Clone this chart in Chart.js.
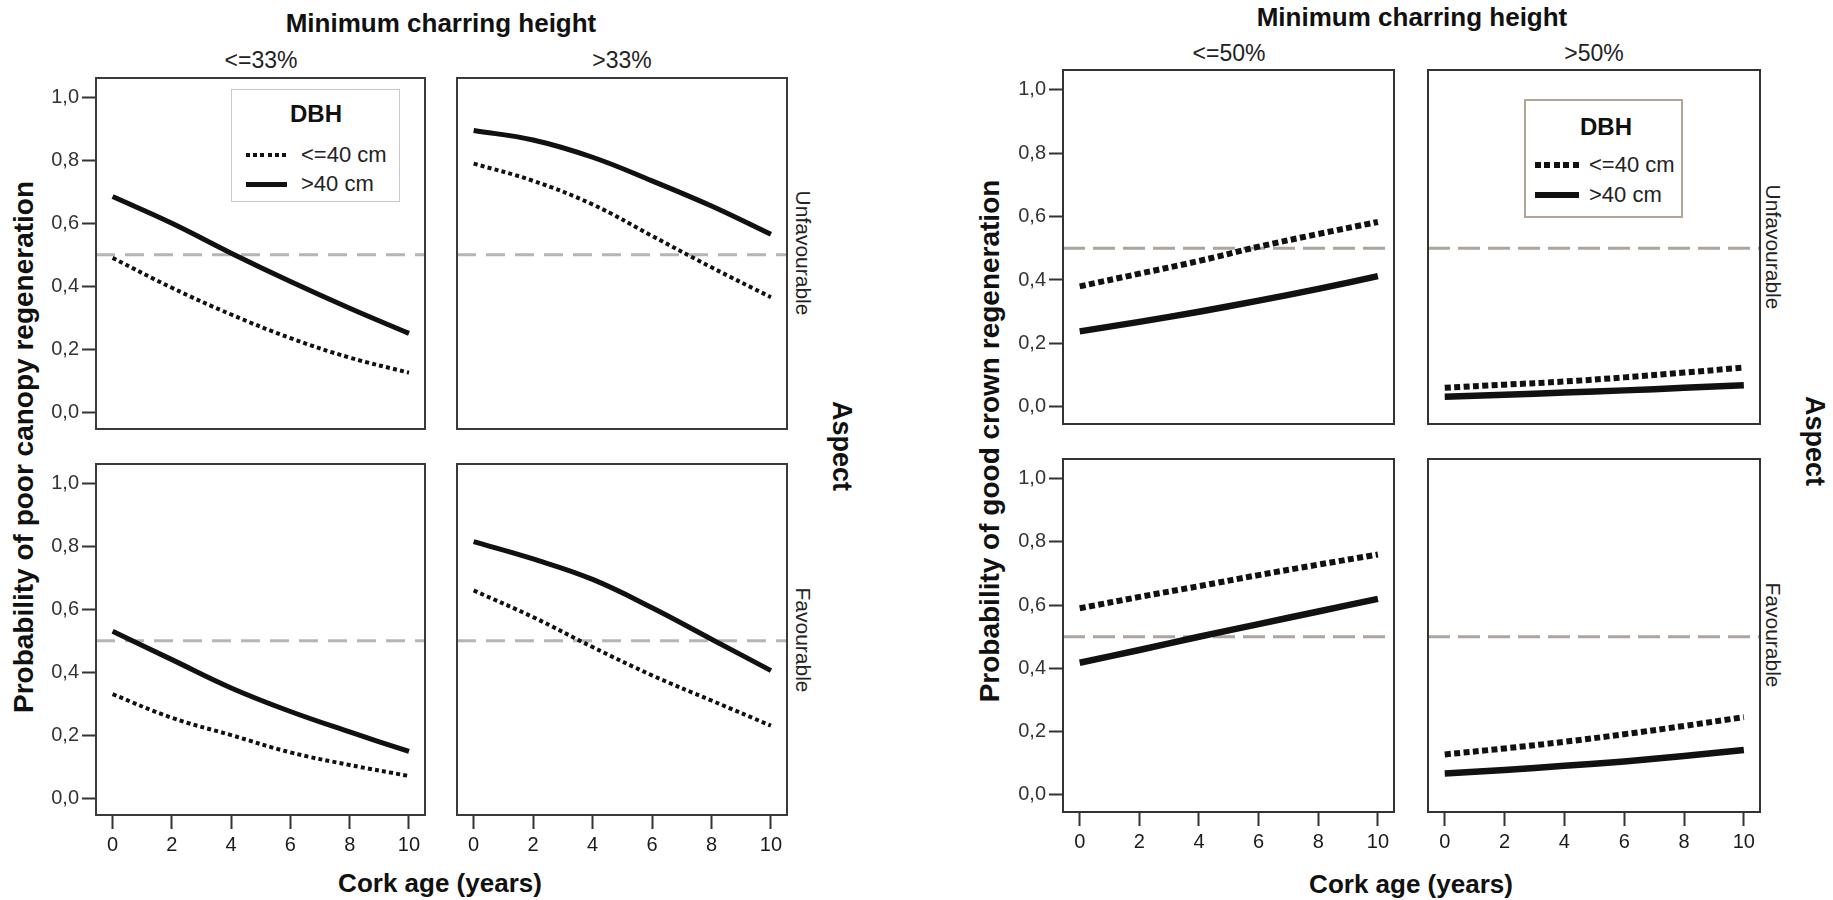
<!DOCTYPE html>
<html lang="en">
<head>
<meta charset="UTF-8">
<title>Probability of canopy and crown regeneration by cork age</title>
<script src="https://cdn.jsdelivr.net/npm/chart.js"></script>
<style>
    html, body {
        margin: 0;
        padding: 0;
        background: #fff;
        width: 1833px;
        height: 900px;
        overflow: hidden;
    }
    #stage {
        position: relative;
        width: 1833px;
        height: 900px;
        font-family: 'Liberation Sans', Arial, sans-serif;
        color: #111;
    }
    canvas { position: absolute; }
    .lbl {
        position: absolute;
        white-space: nowrap;
        line-height: 1;
        transform: translate(-50%, -50%);
    }
    .title { font-weight: bold; font-size: 26px; }
    .head { font-size: 23px; color: #222; }
    .strip { font-size: 21px; color: #222; transform: translate(-50%, -50%) rotate(90deg); }
    .aspect { font-weight: bold; font-size: 27px; transform: translate(-50%, -50%) rotate(90deg); }
    .ytitle { font-weight: bold; font-size: 28px; transform: translate(-50%, -50%) rotate(-90deg); }
    .legend { position: absolute; background: #fff; box-sizing: border-box; }
    .legend .dbh { position: absolute; font-weight: bold; font-size: 24px; line-height: 1; transform: translate(-50%, -50%); }
    .legend .txt { position: absolute; font-size: 22px; line-height: 1; transform: translateY(-50%); white-space: nowrap; color: #222; }
    .legend .smp { position: absolute; }
</style>
</head>
<body>
<div id="stage">
    <!-- left figure -->
    <div class="lbl title" style="left:441px;top:23px">Minimum charring height</div>
    <div class="lbl head" style="left:261px;top:60px">&lt;=33%</div>
    <div class="lbl head" style="left:622px;top:60px">&gt;33%</div>
    <div class="lbl strip" style="left:803px;top:253px">Unfavourable</div>
    <div class="lbl strip" style="left:803px;top:640px">Favourable</div>
    <div class="lbl aspect" style="left:841px;top:446px">Aspect</div>
    <div class="lbl ytitle" style="left:24px;top:447px">Probability of poor canopy regeneration</div>
    <div class="lbl title" style="left:440px;top:883px">Cork age (years)</div>

    <!-- right figure -->
    <div class="lbl title" style="left:1412px;top:17px">Minimum charring height</div>
    <div class="lbl head" style="left:1229px;top:53px">&lt;=50%</div>
    <div class="lbl head" style="left:1594px;top:53px">&gt;50%</div>
    <div class="lbl strip" style="left:1773px;top:247px">Unfavourable</div>
    <div class="lbl strip" style="left:1773px;top:635px">Favourable</div>
    <div class="lbl aspect" style="left:1814px;top:441px">Aspect</div>
    <div class="lbl ytitle" style="left:990px;top:441px">Probability of good crown regeneration</div>
    <div class="lbl title" style="left:1411px;top:884px">Cork age (years)</div>
</div>

<script>
    // x values (cork age, years) and axis ticks
    const corkAge = [0, 2, 4, 6, 8, 10];
    const xTicks = [0, 2, 4, 6, 8, 10];
    const yTicks = [0, 0.2, 0.4, 0.6, 0.8, 1.0];
    const threshold = 0.5;
    const legendLabels = ['<=40 cm', '>40 cm'];

    // Left: probability of poor canopy regeneration (small = DBH <=40 cm, large = >40 cm)
    const poorLowUnfavSmall  = [0.49, 0.395, 0.31, 0.235, 0.173, 0.125];
    const poorLowUnfavLarge  = [0.685, 0.60, 0.505, 0.415, 0.33, 0.25];
    const poorHighUnfavSmall = [0.79, 0.735, 0.66, 0.56, 0.46, 0.365];
    const poorHighUnfavLarge = [0.895, 0.865, 0.81, 0.735, 0.655, 0.565];
    const poorLowFavSmall    = [0.33, 0.255, 0.20, 0.145, 0.105, 0.07];
    const poorLowFavLarge    = [0.53, 0.44, 0.35, 0.275, 0.21, 0.148];
    const poorHighFavSmall   = [0.66, 0.575, 0.48, 0.39, 0.31, 0.23];
    const poorHighFavLarge   = [0.815, 0.76, 0.695, 0.605, 0.505, 0.405];

    // Right: probability of good crown regeneration
    const goodLowUnfavSmall  = [0.38, 0.42, 0.46, 0.505, 0.545, 0.583];
    const goodLowUnfavLarge  = [0.238, 0.268, 0.30, 0.335, 0.372, 0.412];
    const goodHighUnfavSmall = [0.06, 0.07, 0.08, 0.093, 0.108, 0.124];
    const goodHighUnfavLarge = [0.032, 0.038, 0.045, 0.052, 0.06, 0.068];
    const goodLowFavSmall    = [0.59, 0.626, 0.66, 0.695, 0.728, 0.76];
    const goodLowFavLarge    = [0.418, 0.458, 0.50, 0.54, 0.58, 0.62];
    const goodHighFavSmall   = [0.128, 0.147, 0.168, 0.192, 0.218, 0.246];
    const goodHighFavLarge   = [0.068, 0.079, 0.092, 0.106, 0.123, 0.142];

    // axis ranges (the panels have a bit of room round the data)
    const X_MIN = -0.56, X_MAX = 10.54;
    const Y_MIN = -0.054, Y_MAX = 1.062;

    const FONT = "'Liberation Sans', Arial, sans-serif";
    const INK = '#111';
    const PAD = 2;
    const Y_AXIS_W = 60;
    const X_AXIS_H = 42;

    const styleLeft = {
        dotW: 4, dot: [4, 3.2], solidW: 5,
        refColor: '#b5b5b5', refDash: [19, 10], refW: 3,
        frame: '#3a3a3a'
    };
    const styleRight = {
        dotW: 6, dot: [6, 3.4], solidW: 6.5,
        refColor: '#aba59d', refDash: [22, 8], refW: 3,
        frame: '#333'
    };

    // panel boxes: [left, top, right, bottom] in page pixels
    const panels = [
        { box: [96, 78, 425, 429],    small: poorLowUnfavSmall,  large: poorLowUnfavLarge,  y: true,  x: false, st: styleLeft },
        { box: [457, 78, 787, 429],   small: poorHighUnfavSmall, large: poorHighUnfavLarge, y: false, x: false, st: styleLeft },
        { box: [96, 464, 425, 815],   small: poorLowFavSmall,    large: poorLowFavLarge,    y: true,  x: true,  st: styleLeft },
        { box: [457, 464, 787, 815],  small: poorHighFavSmall,   large: poorHighFavLarge,   y: false, x: true,  st: styleLeft },
        { box: [1063, 70, 1394, 424], small: goodLowUnfavSmall,  large: goodLowUnfavLarge,  y: true,  x: false, st: styleRight },
        { box: [1428, 70, 1760, 424], small: goodHighUnfavSmall, large: goodHighUnfavLarge, y: false, x: false, st: styleRight },
        { box: [1063, 459, 1394, 812], small: goodLowFavSmall,   large: goodLowFavLarge,    y: true,  x: true,  st: styleRight },
        { box: [1428, 459, 1760, 812], small: goodHighFavSmall,  large: goodHighFavLarge,   y: false, x: true,  st: styleRight }
    ];

    const stage = document.getElementById('stage');

    // frame round the plot area, like the SPSS panels
    const framePlugin = {
        id: 'frame',
        afterDatasetsDraw(chart, args, opts) {
            const { ctx, chartArea: a } = chart;
            ctx.save();
            ctx.strokeStyle = opts.color;
            ctx.lineWidth = 2;
            ctx.strokeRect(a.left, a.top, a.right - a.left, a.bottom - a.top);
            ctx.restore();
        }
    };

    const comma = v => v.toFixed(1).replace('.', ',');
    const toPoints = vals => corkAge.map((x, i) => ({ x: x, y: vals[i] }));

    // fixed axis size, and no extra room asked for the end labels
    function fixAxis(s, size, horizontal) {
        if (horizontal) s.height = size; else s.width = size;
        s.paddingTop = 0;
        s.paddingBottom = 0;
        s.paddingLeft = 0;
        s.paddingRight = 0;
    }

    function makePanel(p) {
        const [l, t, r, b] = p.box;
        const yw = p.y ? Y_AXIS_W : 0;
        const xh = p.x ? X_AXIS_H : 0;
        const canvas = document.createElement('canvas');
        canvas.width = (r - l) + 2 * PAD + yw;
        canvas.height = (b - t) + 2 * PAD + xh;
        canvas.style.left = (l - PAD - yw) + 'px';
        canvas.style.top = (t - PAD) + 'px';
        stage.appendChild(canvas);

        const st = p.st;
        new Chart(canvas, {
            type: 'line',
            data: {
                datasets: [
                    {
                        label: legendLabels[0],
                        data: toPoints(p.small),
                        borderColor: INK,
                        borderWidth: st.dotW,
                        borderDash: st.dot,
                        borderCapStyle: 'butt',
                        pointRadius: 0,
                        tension: 0.4,
                        fill: false
                    },
                    {
                        label: legendLabels[1],
                        data: toPoints(p.large),
                        borderColor: INK,
                        borderWidth: st.solidW,
                        borderCapStyle: 'butt',
                        pointRadius: 0,
                        tension: 0.4,
                        fill: false
                    },
                    {
                        label: 'threshold',
                        data: [{ x: X_MIN, y: threshold }, { x: X_MAX, y: threshold }],
                        borderColor: st.refColor,
                        borderWidth: st.refW,
                        borderDash: st.refDash,
                        pointRadius: 0,
                        fill: false
                    }
                ]
            },
            options: {
                responsive: false,
                animation: false,
                events: [],
                layout: { autoPadding: false, padding: { left: PAD, right: PAD, top: PAD, bottom: PAD } },
                plugins: {
                    legend: { display: false },
                    tooltip: { enabled: false },
                    frame: { color: st.frame }
                },
                scales: {
                    x: {
                        type: 'linear',
                        min: X_MIN,
                        max: X_MAX,
                        display: p.x,
                        afterBuildTicks: s => { s.ticks = xTicks.map(v => ({ value: v })); },
                        afterFit: s => fixAxis(s, p.x ? X_AXIS_H : 0, true),
                        border: { display: false },
                        grid: { drawOnChartArea: false, drawTicks: true, tickLength: 14, tickWidth: 2, tickColor: '#333' },
                        ticks: { font: { family: FONT, size: 20 }, color: '#1a1a1a', padding: 4, maxRotation: 0, autoSkip: false }
                    },
                    y: {
                        type: 'linear',
                        min: Y_MIN,
                        max: Y_MAX,
                        display: p.y,
                        afterBuildTicks: s => { s.ticks = yTicks.map(v => ({ value: v })); },
                        afterFit: s => fixAxis(s, p.y ? Y_AXIS_W : 0, false),
                        border: { display: false },
                        grid: { drawOnChartArea: false, drawTicks: true, tickLength: 14, tickWidth: 2, tickColor: '#333' },
                        ticks: { font: { family: FONT, size: 20 }, color: '#333', padding: 3, callback: v => comma(v) }
                    }
                }
            },
            plugins: [framePlugin]
        });
    }

    panels.forEach(makePanel);

    // legends (DBH) drawn with the same line styles as the series
    function addLegend(pos, st, border) {
        const box = document.createElement('div');
        box.className = 'legend';
        box.style.left = pos.left + 'px';
        box.style.top = pos.top + 'px';
        box.style.width = pos.w + 'px';
        box.style.height = pos.h + 'px';
        box.style.border = border;

        const title = document.createElement('div');
        title.className = 'dbh';
        title.style.left = pos.titleX + 'px';
        title.style.top = pos.titleY + 'px';
        title.textContent = 'DBH';
        box.appendChild(title);

        legendLabels.forEach((txt, i) => {
            const rowY = pos.rowY[i];
            const w = i === 0 ? st.dotW : st.solidW;
            const smp = document.createElement('div');
            smp.className = 'smp';
            smp.style.left = pos.smpX + 'px';
            smp.style.width = pos.smpW + 'px';
            smp.style.top = (rowY - w / 2) + 'px';
            smp.style.height = w + 'px';
            smp.style.background = i === 0
                ? `repeating-linear-gradient(90deg, ${INK} 0 ${st.dot[0]}px, transparent ${st.dot[0]}px ${st.dot[0] + st.dot[1]}px)`
                : INK;
            box.appendChild(smp);

            const t = document.createElement('div');
            t.className = 'txt';
            t.style.left = pos.txtX + 'px';
            t.style.top = rowY + 'px';
            t.textContent = txt;
            box.appendChild(t);
        });
        stage.appendChild(box);
    }

    addLegend({ left: 231, top: 89, w: 169, h: 113, titleX: 84, titleY: 24, smpX: 14, smpW: 41, txtX: 69, rowY: [65, 94] },
        styleLeft, '1.5px solid #c9c9c9');
    addLegend({ left: 1524, top: 99, w: 159, h: 119, titleX: 80, titleY: 26, smpX: 9, smpW: 44, txtX: 63, rowY: [64, 94] },
        styleRight, '2px solid #b3a596');
</script>
</body>
</html>
